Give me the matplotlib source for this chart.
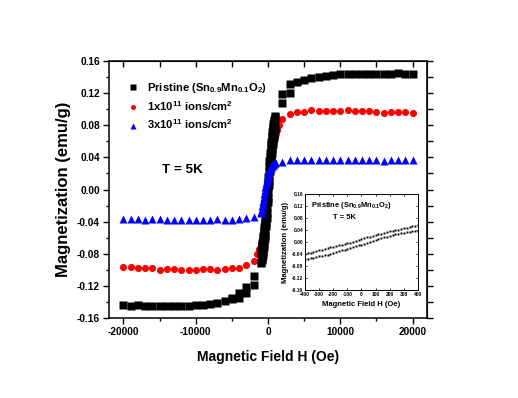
import matplotlib
matplotlib.use("Agg")
import matplotlib.pyplot as plt
from matplotlib.ticker import MultipleLocator, FormatStrFormatter, FixedLocator

plt.rcParams['font.family'] = ['Liberation Sans', 'DejaVu Sans']
plt.rcParams['font.weight'] = 'bold'
plt.rcParams['axes.unicode_minus'] = False
plt.rcParams['mathtext.fontset'] = 'custom'
plt.rcParams['mathtext.rm'] = 'Liberation Sans:bold'
plt.rcParams['mathtext.it'] = 'Liberation Sans:bold'
plt.rcParams['mathtext.bf'] = 'Liberation Sans:bold'
plt.rcParams['mathtext.default'] = 'rm'

# --- data ---
# high-field points (Oe), 1000 Oe step on both sides
field_sat = [-20000, -19000, -18000, -17000, -16000, -15000, -14000, -13000, -12000, -11000,
             -10000, -9000, -8000, -7000, -6000, -5000, -4000, -3000, -2000,
             2000, 3000, 4000, 5000, 6000, 7000, 8000, 9000, 10000, 11000,
             12000, 13000, 14000, 15000, 16000, 17000, 18000, 19000, 20000]

pristine_sat = [-0.1442, -0.1446, -0.1438, -0.1446, -0.1446, -0.1450, -0.1446, -0.1454, -0.1446, -0.1454,
                -0.1434, -0.1442, -0.1422, -0.1413, -0.1388, -0.1347, -0.1285, -0.1210, -0.1189,
                0.1185, 0.1310, 0.1334, 0.1363, 0.1392, 0.1397, 0.1417, 0.1426, 0.1434, 0.1434,
                0.1438, 0.1434, 0.1438, 0.1438, 0.1442, 0.1434, 0.1455, 0.1438, 0.1434]
# second sweep branch where it separates from the first
pristine_branch_h = [-5000, -4000, -3000, -2000, 2000, 3000]
pristine_branch_m = [-0.1368, -0.1355, -0.1293, -0.1073, 0.1073, 0.1197]

ion1_sat = [-0.0961, -0.0965, -0.0973, -0.0973, -0.0982, -0.0998, -0.0990, -0.0990, -0.1007, -0.0998,
            -0.0998, -0.0994, -0.0994, -0.0998, -0.0986, -0.0978, -0.0973, -0.0940, -0.0886,
            0.0878, 0.0936, 0.0961, 0.0969, 0.0990, 0.0982, 0.0982, 0.0982, 0.0982, 0.0990,
            0.0982, 0.0978, 0.0973, 0.0961, 0.0957, 0.0965, 0.0969, 0.0961, 0.0957]

ion3_sat = [-0.0367, -0.0367, -0.0367, -0.0375, -0.0367, -0.0371, -0.0375, -0.0375, -0.0384, -0.0375,
            -0.0375, -0.0375, -0.0375, -0.0371, -0.0375, -0.0380, -0.0367, -0.0350, -0.0338,
            0.0347, 0.0363, 0.0372, 0.0372, 0.0372, 0.0372, 0.0372, 0.0372, 0.0372, 0.0372,
            0.0372, 0.0372, 0.0372, 0.0367, 0.0355, 0.0370, 0.0370, 0.0367, 0.0367]

# low-field loop (Oe), 50 Oe step
field_loop = [-1000, -950, -900, -850, -800, -750, -700, -650, -600, -550, -500,
              -450, -400, -350, -300, -250, -200, -150, -100, -50, 0,
              50, 100, 150, 200, 250, 300, 350, 400, 450, 500,
              550, 600, 650, 700, 750, 800, 850, 900, 950, 1000]
pristine_loop_down = [-0.078, -0.076, -0.073, -0.070, -0.067, -0.064, -0.061, -0.058, -0.054, -0.051, -0.047,
                      -0.044, -0.040, -0.034, -0.028, -0.022, -0.016, -0.010, -0.004, 0.003, 0.009,
                      0.016, 0.023, 0.029, 0.035, 0.040, 0.045, 0.050, 0.055, 0.059, 0.063,
                      0.067, 0.071, 0.075, 0.078, 0.081, 0.084, 0.086, 0.088, 0.090, 0.091]
pristine_loop_up = [-0.091, -0.090, -0.088, -0.086, -0.084, -0.081, -0.078, -0.075, -0.071, -0.068, -0.064,
                    -0.061, -0.057, -0.052, -0.046, -0.041, -0.035, -0.029, -0.022, -0.016, -0.010,
                    -0.003, 0.005, 0.011, 0.017, 0.023, 0.028, 0.033, 0.038, 0.042, 0.046,
                    0.050, 0.053, 0.057, 0.060, 0.063, 0.066, 0.069, 0.072, 0.075, 0.077]
ion3_loop = [-0.029, -0.028, -0.026, -0.024, -0.021, -0.019, -0.016, -0.014, -0.011, -0.009, -0.006,
             -0.003, 0.000, 0.003, 0.005, 0.008, 0.010, 0.012, 0.014, 0.016, 0.018,
             0.020, 0.021, 0.023, 0.024, 0.025, 0.026, 0.027, 0.028, 0.029, 0.029,
             0.030, 0.030, 0.031, 0.031, 0.032, 0.032, 0.033, 0.033, 0.034, 0.034]

field_loop_ion1 = [-1500, -1250, -1000, -750, -500, -250, 0, 250, 500, 750, 1000, 1250, 1500]
ion1_loop = [-0.080, -0.074, -0.066, -0.055, -0.040, -0.021, 0.000, 0.021, 0.040, 0.055, 0.066, 0.074, 0.080]

# inset: pristine sample, +-400 Oe
field_inset = [-400, -380, -360, -340, -320, -300, -280, -260, -240, -220, -200,
               -180, -160, -140, -120, -100, -80, -60, -40, -20, 0,
               20, 40, 60, 80, 100, 120, 140, 160, 180, 200,
               220, 240, 260, 280, 300, 320, 340, 360, 380, 400]
inset_upper = [-0.040, -0.038, -0.036, -0.033, -0.031, -0.028, -0.026, -0.023, -0.021, -0.018, -0.016,
               -0.014, -0.011, -0.009, -0.007, -0.004, -0.002, 0.001, 0.004, 0.006, 0.009,
               0.012, 0.015, 0.017, 0.020, 0.023, 0.025, 0.028, 0.030, 0.032, 0.035,
               0.037, 0.039, 0.041, 0.043, 0.045, 0.047, 0.050, 0.052, 0.054, 0.057]
inset_lower = [-0.058, -0.056, -0.054, -0.052, -0.050, -0.048, -0.046, -0.044, -0.042, -0.039, -0.037,
               -0.034, -0.031, -0.028, -0.026, -0.023, -0.020, -0.017, -0.014, -0.011, -0.009,
               -0.006, -0.003, 0.000, 0.003, 0.006, 0.009, 0.012, 0.015, 0.018, 0.020,
               0.023, 0.025, 0.027, 0.029, 0.031, 0.033, 0.034, 0.035, 0.037, 0.038]

LABEL_PRISTINE = 'Pristine (Sn$_{0.9}$Mn$_{0.1}$O$_2$)'
LABEL_ION1 = '1x10$^{11}$ ions/cm$^2$'
LABEL_ION3 = '3x10$^{11}$ ions/cm$^2$'

# --- figure ---
fig = plt.figure(figsize=(5.18, 3.98), dpi=100)
ax = fig.add_axes([0.2104, 0.201, 0.614, 0.6457])

h_red, = ax.plot(field_sat, ion1_sat, 'o', color='#ff0000', ms=5.1, mec='none', label=LABEL_ION1)
ax.plot(field_loop_ion1, ion1_loop, 'o', color='#ff0000', ms=5.1, mec='none')
h_blk, = ax.plot(field_sat, pristine_sat, 's', color='black', ms=5.5, mec='none', label=LABEL_PRISTINE)
ax.plot(pristine_branch_h, pristine_branch_m, 's', color='black', ms=5.5, mec='none')
ax.plot(field_loop, pristine_loop_down, 's', color='black', ms=5.5, mec='none')
ax.plot(field_loop, pristine_loop_up, 's', color='black', ms=5.5, mec='none')
h_blu, = ax.plot(field_sat, ion3_sat, '^', color='#0000ff', ms=5.6, mec='none', label=LABEL_ION3)
ax.plot(field_loop, ion3_loop, '^', color='#0000ff', ms=5.6, mec='none')

ax.set_xlim(-22000, 22000)
ax.set_ylim(-0.16, 0.16)
ax.xaxis.set_major_locator(MultipleLocator(10000))
ax.xaxis.set_minor_locator(MultipleLocator(5000))
ax.yaxis.set_major_locator(MultipleLocator(0.04))
ax.yaxis.set_minor_locator(MultipleLocator(0.02))
ax.yaxis.set_major_formatter(FormatStrFormatter('%.2f'))
ax.tick_params(which='major', direction='out', length=4, width=1, labelsize=7.3, pad=2.5)
ax.tick_params(which='minor', direction='out', length=2.3, width=1)
for s in ax.spines.values():
    s.set_linewidth(1.1)

top = ax.secondary_xaxis('top')
top.xaxis.set_major_locator(FixedLocator([-20000, -15000, -10000, -5000, 0, 5000, 10000, 15000, 20000]))
top.tick_params(direction='in', length=4, width=1, labeltop=False)
right = ax.secondary_yaxis('right')
right.yaxis.set_major_locator(MultipleLocator(0.02))
right.tick_params(direction='out', length=4, width=1, labelright=False)

ax.set_xlabel('Magnetic Field H (Oe)', fontsize=10, fontweight='bold', labelpad=9)
ax.set_ylabel('Magnetization (emu/g)', fontsize=12, fontweight='bold', labelpad=4)

ax.legend([h_blk, h_red, h_blu], [LABEL_PRISTINE, LABEL_ION1, LABEL_ION3],
          loc='upper left', bbox_to_anchor=(0.059, 0.921), borderaxespad=0, borderpad=0,
          frameon=False, fontsize=8.1, markerscale=0.72, handlelength=0.85,
          handletextpad=0.85, labelspacing=0.38)

ax.text(0.23, 0.575, 'T = 5K', transform=ax.transAxes, fontsize=9.7, fontweight='bold',
        ha='center', va='center')

# --- inset ---
axin = fig.add_axes([0.5888, 0.2714, 0.2181, 0.2412])
axin.plot(field_inset, inset_upper, 's', color='black', ms=1.4, mec='none')
axin.plot(field_inset, inset_lower, 's', color='black', ms=1.4, mec='none')
axin.set_xlim(-400, 400)
axin.set_ylim(-0.16, 0.16)
axin.xaxis.set_major_locator(MultipleLocator(100))
axin.yaxis.set_major_locator(MultipleLocator(0.04))
axin.yaxis.set_major_formatter(FormatStrFormatter('%.2f'))
axin.tick_params(direction='in', length=1.5, width=0.6, labelsize=3.5, pad=1.5,
                 top=True, right=True)
for s in axin.spines.values():
    s.set_linewidth(0.7)
axin.set_xlabel('Magnetic Field H (Oe)', fontsize=5.5, fontweight='bold', labelpad=3)
axin.set_ylabel('Magnetization (emu/g)', fontsize=5.5, fontweight='bold', labelpad=2)
axin.text(0.053, 0.875, LABEL_PRISTINE, transform=axin.transAxes, fontsize=5.4,
          fontweight='bold', va='center')
axin.text(0.25, 0.75, 'T = 5K', transform=axin.transAxes, fontsize=5.4,
          fontweight='bold', va='center')

fig.savefig('out.png', dpi=100)
